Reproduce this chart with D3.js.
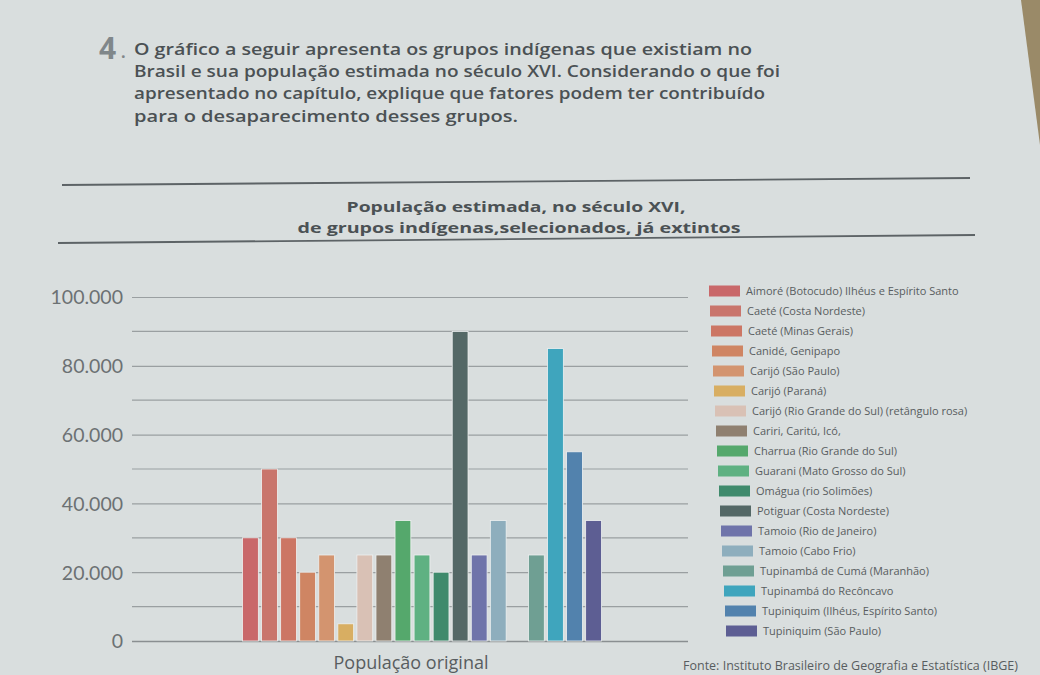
<!DOCTYPE html>
<html>
<head>
<meta charset="utf-8">
<script src="https://cdn.jsdelivr.net/npm/d3@7"></script>
<style>
  html, body { margin: 0; padding: 0; background: #d8dddd; }
  svg { display: block; }
</style>
</head>
<body>
<svg id="chart" width="1040" height="675"></svg>
<script>
// ---------- data ----------
const categories = [
  "Aimoré (Botocudo) Ilhéus e Espírito Santo",
  "Caeté (Costa Nordeste)",
  "Caeté (Minas Gerais)",
  "Canidé, Genipapo",
  "Carijó (São Paulo)",
  "Carijó (Paraná)",
  "Carijó (Rio Grande do Sul) (retângulo rosa)",
  "Cariri, Caritú, Icó,",
  "Charrua (Rio Grande do Sul)",
  "Guarani (Mato Grosso do Sul)",
  "Omágua (rio Solimões)",
  "Potiguar (Costa Nordeste)",
  "Tamoio (Rio de Janeiro)",
  "Tamoio (Cabo Frio)",
  "Tupinambá de Cumá (Maranhão)",
  "Tupinambá do Recôncavo",
  "Tupiniquim (Ilhéus, Espírito Santo)",
  "Tupiniquim (São Paulo)"
];
const populationValues = [
  30000, 50000, 30000, 20000, 25000, 5000, 25000, 25000, 35000,
  25000, 20000, 90000, 25000, 35000, 25000, 85000, 55000, 35000
];
const barColors = [
  "#c9686a", "#c9756c", "#cc7664", "#cf8563", "#d3946f", "#d8ae62",
  "#d9c1b5", "#8f8070", "#55a86c", "#5fb182", "#3f8a6c", "#546866",
  "#6f74aa", "#8eaebd", "#6f9f93", "#3fa5bd", "#5282ad", "#5d5e93"
];
const yTicks = [0, 20000, 40000, 60000, 80000, 100000];
const yTickLabels = ["0", "20.000", "40.000", "60.000", "80.000", "100.000"];
const gridValues = [10000, 30000, 50000, 70000, 90000];
const questionLines = [
  "O gráfico a seguir apresenta os grupos indígenas que existiam no",
  "Brasil e sua população estimada no século XVI. Considerando o que foi",
  "apresentado no capítulo, explique que fatores podem ter contribuído",
  "para o desaparecimento desses grupos."
];
const titleLines = [
  "População estimada, no século XVI,",
  "de grupos indígenas,selecionados, já extintos"
];
const xAxisLabel = "População original";
const sourceText = "Fonte: Instituto Brasileiro de Geografia e Estatística (IBGE)";

// ---------- drawing ----------
const svg = d3.select("#chart");
const W = 1040, H = 675;

// paper
svg.append("rect").attr("width", W).attr("height", H).attr("fill", "#d9dede");
// page edge top-right (background behind paper)
svg.append("path")
  .attr("d", "M1021,0 L1040,0 L1040,145 Z")
  .attr("fill", "#9a8a68");

// question number and text
svg.append("text").attr("x", 99).attr("y", 59)
  .attr("font-family", "Open Sans, sans-serif").attr("font-weight", 700)
  .attr("font-size", 30).attr("fill", "#80878a").text("4");
svg.append("text").attr("x", 121).attr("y", 58)
  .attr("font-family", "Open Sans, sans-serif").attr("font-weight", 700)
  .attr("font-size", 16).attr("fill", "#80878a").text(".");

const qWidths = [618, 646, 631, 384];
const qY = [55, 77, 99, 122];
svg.append("g").selectAll("text").data(questionLines).join("text")
  .attr("x", 134).attr("y", (d, i) => qY[i])
  .attr("font-family", "Open Sans, sans-serif").attr("font-weight", 600)
  .attr("font-size", 15.5).attr("fill", "#4b5154")
  .attr("textLength", (d, i) => qWidths[i]).attr("lengthAdjust", "spacingAndGlyphs")
  .text(d => d);

// title rules
svg.append("line").attr("x1", 62).attr("y1", 185).attr("x2", 970).attr("y2", 178)
  .attr("stroke", "#5d6366").attr("stroke-width", 1.8);
svg.append("line").attr("x1", 58).attr("y1", 243).attr("x2", 975).attr("y2", 235)
  .attr("stroke", "#5d6366").attr("stroke-width", 1.8);

const tWidths = [339, 443];
const tX = [516, 519];
const tY = [212, 233];
svg.append("g").selectAll("text").data(titleLines).join("text")
  .attr("x", (d, i) => tX[i]).attr("y", (d, i) => tY[i])
  .attr("text-anchor", "middle")
  .attr("font-family", "Open Sans, sans-serif").attr("font-weight", 700)
  .attr("font-size", 15).attr("fill", "#4b5154")
  .attr("textLength", (d, i) => tWidths[i]).attr("lengthAdjust", "spacingAndGlyphs")
  .text(d => d);

// scales
const slotDomain = categories.slice(0, 14).concat(["__gap__"], categories.slice(14));
const x = d3.scaleBand().domain(slotDomain).range([241, 603]).paddingInner(0.17).paddingOuter(0.08);
const y = d3.scaleLinear().domain([0, 100000]).range([641, 297]);

// grid lines (minor)
svg.append("g").selectAll("line").data(gridValues).join("line")
  .attr("x1", 132).attr("x2", 688)
  .attr("y1", d => y(d)).attr("y2", d => y(d))
  .attr("stroke", "#9a9fa1").attr("stroke-width", 1.2);

// y axis with major gridlines as ticks
const yAxis = d3.axisRight(y)
  .tickValues(yTicks)
  .tickSize(556)
  .tickFormat((d, i) => yTickLabels[i]);
const yG = svg.append("g").attr("transform", "translate(132,0)").call(yAxis);
yG.select(".domain").remove();
yG.selectAll(".tick line").attr("stroke", "#9a9fa1").attr("stroke-width", 1.2);
yG.selectAll(".tick line").filter(d => d === 0).attr("stroke", "#8a8f91").attr("stroke-width", 1.4);
yG.selectAll(".tick text")
  .attr("x", -9).attr("text-anchor", "end").attr("dy", "0.35em")
  .attr("font-family", "Lato, Open Sans, sans-serif").attr("font-size", 19.5)
  .attr("fill", "#6c7173");

// bars
svg.append("g").selectAll("rect").data(categories).join("rect")
  .attr("x", d => x(d))
  .attr("width", x.bandwidth())
  .attr("y", (d, i) => y(populationValues[i]))
  .attr("height", (d, i) => y(0) - y(populationValues[i]))
  .attr("fill", (d, i) => barColors[i])
  .attr("stroke", "#eef0f0").attr("stroke-width", 0.8);

// x axis label
svg.append("text").attr("x", 411).attr("y", 669).attr("text-anchor", "middle")
  .attr("font-family", "Open Sans, sans-serif").attr("font-size", 18)
  .attr("fill", "#585d60").text(xAxisLabel);

// legend
const ly = d3.scaleBand().domain(categories).range([281, 641]);
const legend = svg.append("g").selectAll("g").data(categories).join("g")
  .attr("transform", d => `translate(0,${ly(d) + ly.bandwidth() / 2})`);
legend.append("rect")
  .attr("x", (d, i) => 709 + i * 1).attr("y", -5.5).attr("width", 31).attr("height", 11)
  .attr("fill", (d, i) => barColors[i]);
legend.append("text")
  .attr("x", (d, i) => 746 + i * 1).attr("y", 0).attr("dy", "0.35em")
  .attr("font-family", "Open Sans, sans-serif").attr("font-size", 11)
  .attr("fill", "#585d60").text(d => d);

// source line
svg.append("text").attr("x", 1018).attr("y", 670).attr("text-anchor", "end")
  .attr("font-family", "Open Sans, sans-serif").attr("font-size", 12.5)
  .attr("fill", "#585d60").text(sourceText);
</script>
</body>
</html>
